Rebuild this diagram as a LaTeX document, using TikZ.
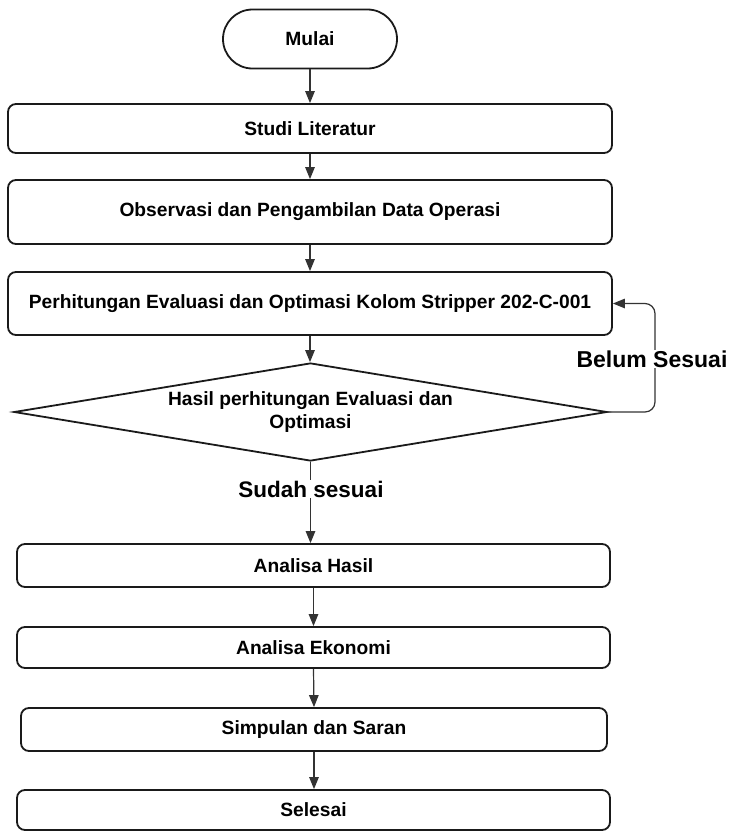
\documentclass[tikz,border=0pt]{standalone}
\usepackage{fontspec}
\setmainfont{Liberation Sans}
\usetikzlibrary{shapes.geometric,shapes.misc,arrows.meta}
\definecolor{edge}{HTML}{1A1A1A}
\definecolor{arr}{HTML}{333333}
\tikzset{
  box/.style={draw=edge, line width=1.8pt, rounded corners=8pt, inner sep=0pt,
    font=\fontsize{19.2}{23}\selectfont\bfseries, align=center},
  term/.style={draw=edge, line width=1.8pt, rounded rectangle, inner sep=0pt,
    font=\fontsize{19.2}{23}\selectfont\bfseries},
  decision/.style={draw=edge, line width=1.8pt, diamond, aspect=6.05, inner sep=0pt,
    font=\fontsize{19.2}{23}\selectfont\bfseries, align=center},
  flow/.style={draw=arr, line width=1.2pt, -{Triangle[length=12pt,width=9.5pt]}},
  plain/.style={draw=arr, line width=1.2pt},
  lbl/.style={fill=white, inner sep=1pt, font=\fontsize{22.5}{26}\selectfont\bfseries},
}
\begin{document}
\begin{tikzpicture}[x=1pt,y=-1pt]
\useasboundingbox (0,0) rectangle (731,831);
\fill[white] (0,0) rectangle (731,831);

\node[term, minimum width=174pt, minimum height=59pt] (mulai) at (310,39) {Mulai};
\node[box, minimum width=604pt, minimum height=49pt] (studi) at (310,128.5) {Studi Literatur};
\node[box, minimum width=604pt, minimum height=64pt] (obs) at (310,212) {Observasi dan Pengambilan Data Operasi};
\node[box, minimum width=604pt, minimum height=63pt] (perh) at (310,303.5) {Perhitungan Evaluasi dan Optimasi Kolom Stripper 202-C-001};
\node[decision, minimum width=593pt, minimum height=98pt] (dec) at (310.5,412) {Hasil perhitungan Evaluasi dan\\Optimasi};
\node[box, minimum width=593pt, minimum height=43pt] (ah) at (313.5,565.5) {Analisa Hasil};
\node[box, minimum width=593pt, minimum height=41pt] (ae) at (313.5,647.5) {Analisa Ekonomi};
\node[box, minimum width=586pt, minimum height=43pt] (sim) at (314,729.5) {Simpulan dan Saran};
\node[box, minimum width=593pt, minimum height=40pt] (sel) at (313.5,810) {Selesai};

\draw[flow] (mulai.south) -- (mulai.south |- studi.north);
\draw[flow] (studi.south) -- (obs.north);
\draw[flow] (obs.south) -- (perh.north);
\draw[flow] (perh.south) -- (perh.south |- dec.north);

\node[lbl] (sudah) at (311,489) {Sudah sesuai};
\draw[plain] (dec.south) -- (dec.south |- sudah.north);
\draw[flow] (sudah.south -| dec.south) -- (dec.south |- ah.north);

\draw[flow] (ah.south) -- (ae.north);
\draw[flow] (ae.south) -- (sim.north);
\draw[flow] (sim.south) -- (sim.south |- sel.north);

\coordinate (loopc) at (655,412);
\draw[flow, rounded corners=10pt] (dec.east) -- (loopc) |- (perh.east);
\node[lbl, font=\fontsize{23}{26}\selectfont\bfseries] (belum) at (652,359) {Belum Sesuai};
\end{tikzpicture}
\end{document}
